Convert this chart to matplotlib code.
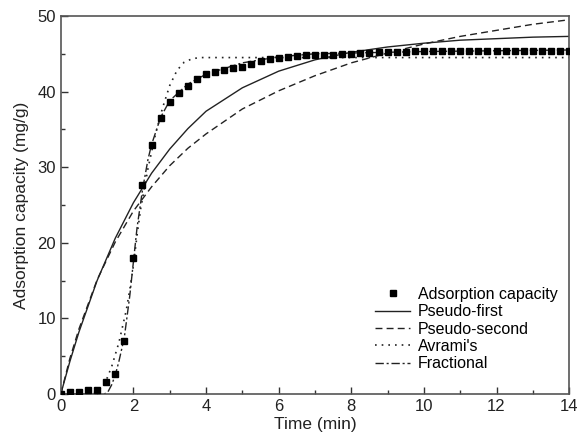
import matplotlib
matplotlib.use("Agg")
import matplotlib.pyplot as plt
from matplotlib.ticker import MultipleLocator

plt.rcParams['font.family'] = ['Liberation Sans', 'DejaVu Sans']

# Experimental data (every 0.25 min)
t_data = [0, 0.25, 0.5, 0.75, 1.0, 1.25, 1.5, 1.75, 2.0, 2.25, 2.5, 2.75, 3.0, 3.25, 3.5, 3.75,
          4.0, 4.25, 4.5, 4.75, 5.0, 5.25, 5.5, 5.75, 6.0, 6.25, 6.5, 6.75, 7.0, 7.25, 7.5, 7.75,
          8.0, 8.25, 8.5, 8.75, 9.0, 9.25, 9.5, 9.75, 10.0, 10.25, 10.5, 10.75, 11.0, 11.25, 11.5,
          11.75, 12.0, 12.25, 12.5, 12.75, 13.0, 13.25, 13.5, 13.75, 14.0]
q_data = [0.0, 0.3, 0.3, 0.5, 0.5, 1.6, 2.7, 7.0, 18.0, 27.6, 33.0, 36.5, 38.6, 39.8, 40.8, 41.7,
          42.3, 42.6, 42.9, 43.1, 43.3, 43.7, 44.0, 44.3, 44.5, 44.6, 44.7, 44.8, 44.9, 44.9, 44.9, 45.0,
          45.0, 45.1, 45.1, 45.2, 45.2, 45.3, 45.3, 45.4, 45.4, 45.4, 45.4, 45.4, 45.4, 45.4, 45.4,
          45.4, 45.4, 45.4, 45.4, 45.4, 45.4, 45.4, 45.4, 45.4, 45.4]

# Model curves
t_pf = [0, 0.25, 0.5, 1, 1.5, 2, 2.5, 3, 3.5, 4, 5, 6, 7, 8, 9, 10, 11, 12, 13, 14]
q_pf = [0, 4.3, 8.2, 15.0, 20.6, 25.3, 29.2, 32.4, 35.1, 37.4, 40.5, 42.7, 44.2, 45.2, 45.9, 46.4,
        46.8, 47.0, 47.2, 47.3]

t_ps = [0, 0.25, 0.5, 1, 1.5, 2, 2.5, 3, 3.5, 4, 5, 6, 7, 8, 9, 10, 11, 12, 13, 14]
q_ps = [0, 4.7, 8.6, 15.1, 20.1, 24.2, 27.4, 30.2, 32.5, 34.4, 37.7, 40.1, 42.1, 43.8, 45.1, 46.3,
        47.3, 48.1, 48.9, 49.5]

t_av = [0, 0.8, 1.0, 1.2, 1.4, 1.6, 1.8, 1.9, 2.0, 2.1, 2.2, 2.4, 2.6, 2.8, 3.0, 3.2, 3.4, 3.6,
        3.8, 4.0, 14]
q_av = [0, 0.0, 0.3, 1.2, 3.6, 6.8, 11.0, 13.8, 17.0, 21.0, 24.5, 29.8, 34.2, 37.8, 40.8, 42.8,
        43.9, 44.3, 44.5, 44.5, 44.5]

t_fr = [0, 1.2, 1.3, 1.4, 1.5, 1.6, 1.75, 1.9, 2.0, 2.1, 2.25, 2.4, 2.5, 2.75, 3.0, 3.5, 4.0, 5.0,
        6.0, 7.0, 8.0, 10.0, 14.0]
q_fr = [0, 0.0, 0.3, 1.2, 2.5, 4.3, 7.5, 13.0, 17.5, 22.0, 27.0, 31.0, 33.0, 36.6, 38.8, 41.0, 42.3,
        43.8, 44.6, 45.0, 45.1, 45.3, 45.5]

fig = plt.figure(figsize=(5.79, 4.32), dpi=100)
ax = fig.add_axes([0.105, 0.088, 0.878, 0.875])

ax.plot(t_data, q_data, 's', color='black', ms=5, label='Adsorption capacity', zorder=5)
ax.plot(t_pf, q_pf, '-', color='#222222', lw=1.0, label='Pseudo-first')
ax.plot(t_ps, q_ps, '--', color='#222222', lw=1.0, dashes=(5, 3), label='Pseudo-second')
ax.plot(t_av, q_av, ':', color='#222222', lw=1.2, dashes=(1, 3), label="Avrami's")
ax.plot(t_fr, q_fr, '-.', color='#222222', lw=1.0, dashes=(6, 2, 1.5, 2), label='Fractional')

ax.set_xlim(0, 14)
ax.set_ylim(0, 50)
ax.xaxis.set_major_locator(MultipleLocator(2))
ax.xaxis.set_minor_locator(MultipleLocator(1))
ax.yaxis.set_major_locator(MultipleLocator(10))
ax.yaxis.set_minor_locator(MultipleLocator(5))
ax.tick_params(which='both', direction='in', labelsize=12, colors='#333333', labelcolor='#222222')
ax.tick_params(which='major', length=5, width=1)
ax.tick_params(which='minor', length=3, width=1)
for s in ax.spines.values():
    s.set_color('#555555')
    s.set_linewidth(1.2)

ax.set_xlabel('Time (min)', fontsize=12.5, color='#222222', labelpad=2)
ax.set_ylabel('Adsorption capacity (mg/g)', fontsize=12.5, color='#222222', labelpad=6)

leg = ax.legend(loc='lower right', bbox_to_anchor=(1.0, 0.03), frameon=False, fontsize=11.5,
                handlelength=2.2, handletextpad=0.5, labelspacing=0.15, borderaxespad=0.3)

fig.savefig('out.png', dpi=100)
